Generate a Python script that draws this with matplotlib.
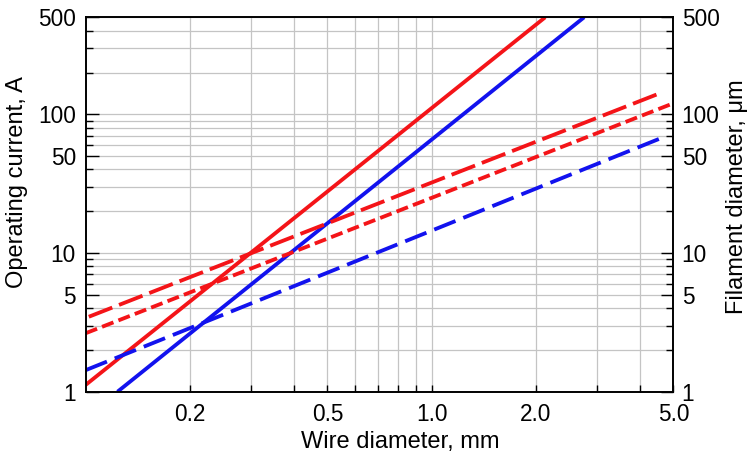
import matplotlib
matplotlib.use("Agg")
import matplotlib.pyplot as plt
from matplotlib.ticker import FixedLocator, FixedFormatter, NullFormatter

plt.rcParams['font.family'] = ['Liberation Sans', 'DejaVu Sans']

# line end points (wire diameter mm, value)
red_solid_x = [0.1, 2.13]
red_solid_y = [1.12, 500]
blue_solid_x = [0.1236, 2.76]
blue_solid_y = [1.0, 500]
red_dash_x = [0.1021, 4.48]
red_dash_y = [3.47, 139]
red_dot_x = [0.1, 5.0]
red_dot_y = [2.64, 120]
blue_dash_x = [0.1, 4.64]
blue_dash_y = [1.43, 67.8]

x_labels = ["0.2", "0.5", "1.0", "2.0", "5.0"]
x_label_pos = [0.2, 0.5, 1.0, 2.0, 5.0]
y_labels = ["1", "5", "10", "50", "100", "500"]
y_label_pos = [1, 5, 10, 50, 100, 500]

RED = "#f41418"
BLUE = "#1212ee"
LW = 2.75
TICK_FS = 16.3
LABEL_FS = 17

fig = plt.figure(figsize=(7.49, 4.59), dpi=100)
ax = fig.add_axes([0.1144, 0.1466, 0.7846, 0.8157])

ax.loglog(red_solid_x, red_solid_y, color=RED, lw=LW, solid_capstyle="butt")
ax.loglog(blue_solid_x, blue_solid_y, color=BLUE, lw=LW, solid_capstyle="butt")
ax.loglog(red_dash_x, red_dash_y, color=RED, lw=LW, ls=(0, (6.6, 1.9)))
ax.loglog(red_dot_x, red_dot_y, color=RED, lw=LW, ls=(0, (3.2, 1.4)))
ax.loglog(blue_dash_x, blue_dash_y, color=BLUE, lw=LW, ls=(0, (6.0, 2.2)))

ax.set_xlim(0.1, 5.0)
ax.set_ylim(1, 500)

# x ticks: labelled ones short, the decade tick long
x_grid = [0.2, 0.3, 0.4, 0.5, 0.6, 0.7, 0.8, 0.9, 1.0, 2.0, 3.0, 4.0, 5.0]
x_text = [x_labels[x_label_pos.index(v)] if v in x_label_pos else "" for v in x_grid]
ax.xaxis.set_major_locator(FixedLocator(x_grid))
ax.xaxis.set_major_formatter(FixedFormatter(x_text))
ax.xaxis.set_minor_locator(FixedLocator([1.0]))
ax.xaxis.set_minor_formatter(NullFormatter())

y_minor = [2, 3, 4, 6, 7, 8, 9, 20, 30, 40, 60, 70, 80, 90, 200, 300, 400]
ax.yaxis.set_major_locator(FixedLocator(y_label_pos))
ax.yaxis.set_major_formatter(FixedFormatter(y_labels))
ax.yaxis.set_minor_locator(FixedLocator(y_minor))
ax.yaxis.set_minor_formatter(NullFormatter())

ax.grid(True, which="both", color="#c4c4c4", lw=0.9)
ax.set_axisbelow(True)

ax.tick_params(axis="x", which="major", direction="in", length=5, width=1,
               labelsize=TICK_FS, pad=8, top=False)
ax.tick_params(axis="x", which="minor", direction="in", length=13, width=1, top=False)
ax.tick_params(axis="y", which="major", direction="in", length=9, width=1,
               labelsize=TICK_FS, pad=7)
ax.tick_params(axis="y", which="minor", direction="in", length=5, width=1)

for s in ax.spines.values():
    s.set_linewidth(1.2)

ax.set_xlabel("Wire diameter, mm", fontsize=LABEL_FS)
ax.xaxis.set_label_coords(0.535, -0.105)
ax.set_ylabel("Operating current, A", fontsize=LABEL_FS)
ax.yaxis.set_label_coords(-0.098, 0.56)

# right axis carries the filament diameter scale
ax2 = ax.twinx()
ax2.set_yscale("log")
ax2.set_ylim(1, 500)
ax2.yaxis.set_major_locator(FixedLocator(y_label_pos))
ax2.yaxis.set_major_formatter(FixedFormatter(y_labels))
ax2.yaxis.set_minor_locator(FixedLocator(y_minor))
ax2.yaxis.set_minor_formatter(NullFormatter())
ax2.tick_params(axis="y", which="major", direction="in", length=9, width=1,
                labelsize=TICK_FS, pad=6)
ax2.tick_params(axis="y", which="minor", direction="in", length=5, width=1)
ax2.set_ylabel("Filament diameter, μm", fontsize=LABEL_FS)
ax2.yaxis.set_label_coords(1.09, 0.52)
for s in ax2.spines.values():
    s.set_linewidth(1.2)

fig.savefig("out.png", dpi=100)
